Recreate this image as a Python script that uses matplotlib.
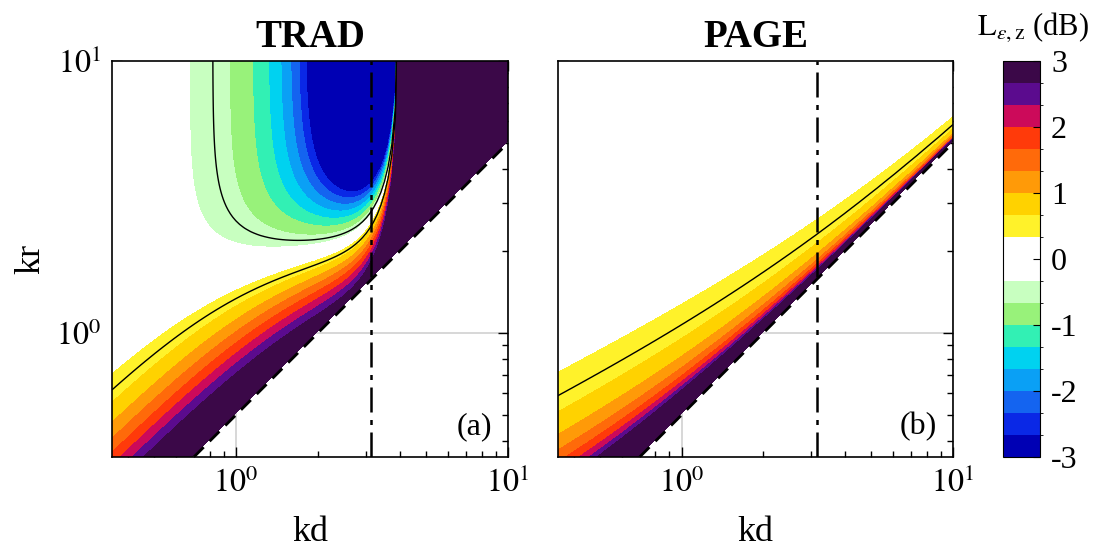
"""
Bias error level L_eps,z of the TRAD and PAGE intensity estimates
over (kd, kr) for a two-microphone probe near a point source.
"""

import numpy as np
import matplotlib

matplotlib.use("Agg")
import matplotlib.pyplot as plt
from matplotlib.cm import ScalarMappable
from matplotlib.colors import BoundaryNorm, ListedColormap
from matplotlib.ticker import LogLocator, NullFormatter

plt.rcParams["font.family"] = ["Liberation Serif", "DejaVu Serif"]
plt.rcParams["mathtext.fontset"] = "stix"
plt.rcParams["axes.unicode_minus"] = False

# --------------------------------------------------------------------------- #
# Axis ranges and labels
# --------------------------------------------------------------------------- #
KD_RANGE = [0.35, 10.0]
KR_RANGE = [0.35, 10.0]
N_GRID = 110                      # grid points per axis (log spaced)

AXIS_TICKS = [1, 10]
AXIS_TICKLABELS = ["$10^0$", "$10^1$"]
PANEL_TITLES = ["TRAD", "PAGE"]
PANEL_TAGS = ["(a)", "(b)"]

# colour levels in dB (1/3 dB steps from -3 to 3) and the band colours
LEVELS = np.arange(-9, 10) / 3.0
BAND_COLORS = [
    "#0000b4", "#0a28e6", "#1464f0", "#0aa0f5", "#00d2f0", "#32f0b4",
    "#98f27a", "#c8ffc0", "#ffffff", "#ffffff", "#fff22a", "#ffd200",
    "#ff9a08", "#ff6a0a", "#ff3a0a", "#cc0a5a", "#5b0b8e", "#3b0848",
]
LINE_LEVELS = [-0.5, 0.5]
CBAR_TICKS = [-3, -2, -1, 0, 1, 2, 3]
CBAR_TICKLABELS = ["-3", "-2", "-1", "0", "1", "2", "3"]

# bias model constants, tuned to the contour positions of the figure
TRAD_NEAR_GAIN = 1.73             # near-field gain of the TRAD estimate
TRAD_NEAR_POWER = 1.38            # decay with u = kr / (kd/2) ...
TRAD_NEAR_CURVE = 0.476           # ... steepening with log(u)
TRAD_WRAP_KD = 3.95               # kd where the TRAD estimate flips sign
TRAD_WRAP_ORDER = 6
PAGE_NEAR_WEIGHT = 0.44           # near-field gain of the PAGE estimate


def trad_level(kd, kr):
    sinc = np.sin(kd) / kd
    log_u = np.log(2.0 * kr / kd)
    near = TRAD_NEAR_GAIN * np.exp(-(TRAD_NEAR_POWER + TRAD_NEAR_CURVE * log_u) * log_u)
    wrap = 1.0 - (kd / TRAD_WRAP_KD) ** TRAD_WRAP_ORDER
    ratio = sinc + near / wrap
    with np.errstate(divide="ignore"):
        level = 10.0 * np.log10(np.abs(ratio))
    level[kd >= TRAD_WRAP_KD] = 20.0
    return level


def page_level(kd, kr):
    q = (kd / 2.0) ** 2
    ratio = 1.0 + PAGE_NEAR_WEIGHT / kd * q / (kr ** 2 - q)
    return 10.0 * np.log10(ratio)


kd = np.logspace(np.log10(KD_RANGE[0]), np.log10(KD_RANGE[1]), N_GRID)
kr = np.logspace(np.log10(KR_RANGE[0]), np.log10(KR_RANGE[1]), N_GRID)
KD, KR = np.meshgrid(kd, kr)
valid = KR > KD / 2.0

fields = []
for func in (trad_level, page_level):
    with np.errstate(invalid="ignore", divide="ignore"):
        L = func(KD, np.where(valid, KR, np.nan))
    L = np.clip(L, -20, 20)
    fields.append(np.ma.masked_where(~valid | ~np.isfinite(L), L))

cmap = ListedColormap(BAND_COLORS).with_extremes(
    under=BAND_COLORS[0], over=BAND_COLORS[-1])
norm = BoundaryNorm(LEVELS, len(BAND_COLORS))

# --------------------------------------------------------------------------- #
# Figure
# --------------------------------------------------------------------------- #
W, H = 1097, 557
fig = plt.figure(figsize=(W / 100, H / 100), dpi=100)
boxes = [(112, 61, 396, 396), (558, 61, 395, 396)]
axes = [fig.add_axes([x / W, 1 - (y + h) / H, w / W, h / H]) for x, y, w, h in boxes]
cax = fig.add_axes([1003 / W, 1 - 457 / H, 37 / W, 396 / H])

line_kd = np.array([2 * KR_RANGE[0], KD_RANGE[1]])

for ax, L, title, tag in zip(axes, fields, PANEL_TITLES, PANEL_TAGS):
    ax.set_xscale("log")
    ax.set_yscale("log")
    ax.set_axisbelow(True)
    ax.grid(True, which="major", color="#d4d4d4", lw=1.3)

    ax.contourf(KD, KR, L, levels=LEVELS, cmap=cmap, norm=norm,
                extend="both", zorder=1)
    ax.contour(KD, KR, L, levels=LINE_LEVELS, colors="k",
               linewidths=1.0, linestyles="solid", zorder=2)

    ax.axvline(np.pi, color="k", lw=1.8, ls=(0, (10, 3, 2, 3)), zorder=3)
    ax.plot(line_kd, line_kd / 2.0, color="k", lw=2.0, ls=(0, (5, 3)), zorder=3)

    ax.set_xlim(KD_RANGE)
    ax.set_ylim(KR_RANGE)
    ax.set_xticks(AXIS_TICKS)
    ax.set_xticklabels(AXIS_TICKLABELS)
    ax.set_yticks(AXIS_TICKS)
    ax.set_yticklabels(AXIS_TICKLABELS)
    for axis in (ax.xaxis, ax.yaxis):
        axis.set_minor_locator(LogLocator(base=10, subs=np.arange(2, 10)))
        axis.set_minor_formatter(NullFormatter())
    ax.tick_params(which="both", direction="in", top=True, right=True,
                   labelsize=23, width=1.0)
    ax.tick_params(which="major", length=7, pad=8)
    ax.tick_params(which="minor", length=4)
    for spine in ax.spines.values():
        spine.set_linewidth(1.2)

    ax.set_title(title, fontsize=28, fontweight="bold", pad=10)
    ax.set_xlabel("kd", fontsize=26, labelpad=12)
    ax.text(0.96, 0.04, tag, transform=ax.transAxes, ha="right", va="bottom",
            fontsize=23)

axes[0].set_ylabel("kr", fontsize=26, labelpad=6)
axes[1].set_yticklabels([])

sm = ScalarMappable(norm=norm, cmap=ListedColormap(BAND_COLORS))
cb = fig.colorbar(sm, cax=cax, ticks=CBAR_TICKS)
cb.set_ticklabels(CBAR_TICKLABELS)
cb.ax.tick_params(direction="in", length=5, labelsize=23, pad=8)
cb.outline.set_linewidth(0.8)
fig.text(1033 / W, 1 - 27 / H, r"$\mathrm{L}_{\epsilon,\mathrm{z}}$ (dB)",
         ha="center", va="center", fontsize=22)

fig.savefig("out.png", dpi=100)
